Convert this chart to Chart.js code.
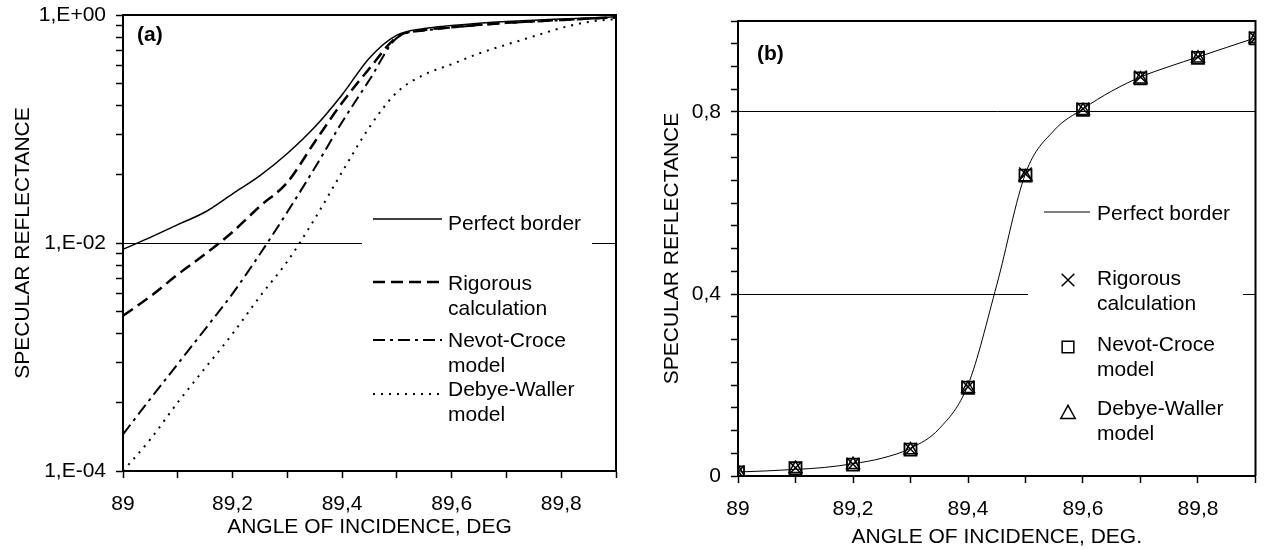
<!DOCTYPE html>
<html>
<head>
<meta charset="utf-8">
<script src="https://cdn.jsdelivr.net/npm/chart.js@4.4.0/dist/chart.umd.min.js"></script>
<style>
  body { margin: 0; background: #fff; }
  #wrapA { position: absolute; left: 0; top: 0; width: 630px; height: 550px; }
  #wrapB { position: absolute; left: 640px; top: 0; width: 626px; height: 550px; }
</style>
</head>
<body>
<div id="wrapA"><canvas id="chartA"></canvas></div>
<div id="wrapB"><canvas id="chartB"></canvas></div>
<script>
// angles for the curves (deg)
const anglesA = [89, 89.05, 89.1, 89.15, 89.2, 89.25, 89.3, 89.35, 89.4, 89.45, 89.5, 89.55, 89.6, 89.65, 89.7, 89.75, 89.8, 89.85, 89.9];
const perfectBorder = [0.0088, 0.0112, 0.0145, 0.0187, 0.027, 0.039, 0.061, 0.104, 0.200, 0.42, 0.665, 0.76, 0.807, 0.846, 0.877, 0.90, 0.921, 0.942, 0.963];
const rigorousA = [0.0023, 0.0034, 0.0053, 0.008, 0.0125, 0.021, 0.034, 0.077, 0.17, 0.34, 0.64, 0.74, 0.78, 0.82, 0.855, 0.88, 0.905, 0.93, 0.955];
const nevotA = [0.00021, 0.00043, 0.00087, 0.00176, 0.0036, 0.008, 0.0187, 0.0455, 0.115, 0.27, 0.63, 0.73, 0.775, 0.815, 0.85, 0.875, 0.90, 0.925, 0.95];
const debyeA = [0.0001, 0.00019, 0.0004, 0.0008, 0.0016, 0.0034, 0.0069, 0.0163, 0.042, 0.104, 0.21, 0.30, 0.37, 0.46, 0.55, 0.65, 0.77, 0.87, 0.92];

// markers in panel (b)
const anglesB = [89, 89.1, 89.2, 89.3, 89.4, 89.5, 89.6, 89.7, 89.8, 89.9];
const rigorousB = [0.009, 0.018, 0.026, 0.059, 0.196, 0.664, 0.807, 0.877, 0.921, 0.963];
const nevotB = [0.008, 0.017, 0.025, 0.058, 0.194, 0.660, 0.805, 0.874, 0.919, 0.962];
const debyeB = [0.008, 0.016, 0.025, 0.057, 0.192, 0.657, 0.803, 0.872, 0.918, 0.961];

const seriesNames = ["Perfect border", "Rigorous\ncalculation", "Nevot-Croce\nmodel", "Debye-Waller\nmodel"];

// tick values
const xTicks = [89, 89.1, 89.2, 89.3, 89.4, 89.5, 89.6, 89.7, 89.8, 89.9];
const yMajorA = [1e-4, 1e-2, 1];
const yMajorB = [0, 0.4, 0.8];

Chart.defaults.font.family = "'Liberation Sans', Arial, sans-serif";
Chart.defaults.font.size = 21;
Chart.defaults.color = "#000";

function toPoints(xs, ys) {
    return xs.map((x, i) => ({ x: x, y: ys[i] }));
}

// minor ticks on log axis: Excel puts them at k*k times the lower major
let yTicksA = [];
for (let m = 0; m < yMajorA.length - 1; m++) {
    yTicksA.push(yMajorA[m]);
    for (let k = 2; k <= 9; k++) yTicksA.push(yMajorA[m] * k * k);
}
yTicksA.push(1);

let yTicksB = [];
for (let i = 0; i <= 20; i++) yTicksB.push(Math.round(i * 5) / 100);

function isMajor(v, list) {
    return list.some(m => Math.abs(v - m) < 1e-9 || (m > 0 && Math.abs(v / m - 1) < 1e-6));
}

function xLabel(value) {
    let t = Math.round(value * 10);
    if (t % 2 !== 0) return "";
    if (t % 10 === 0) return String(t / 10);
    return (t / 10).toFixed(1).replace(".", ",");
}

// frame, panel letter and the boxed legend
const panelPlugin = {
    id: "panelDeco",
    beforeDatasetsDraw(chart) {
        const o = chart.options.plugins.panelDeco;
        const ctx = chart.ctx;
        ctx.save();
        ctx.fillStyle = "#fff";
        ctx.fillRect(o.box[0], o.box[1], o.box[2] - o.box[0], o.box[3] - o.box[1]);
        ctx.restore();
    },
    afterDraw(chart) {
        const o = chart.options.plugins.panelDeco;
        const ctx = chart.ctx;
        const a = chart.chartArea;
        ctx.save();
        // top + right border of plot area
        ctx.strokeStyle = "#000";
        ctx.lineWidth = 2;
        ctx.beginPath();
        ctx.moveTo(a.left, a.top);
        ctx.lineTo(a.right, a.top);
        ctx.lineTo(a.right, a.bottom);
        ctx.stroke();

        ctx.fillStyle = "#000";
        ctx.font = "bold 21px 'Liberation Sans', Arial, sans-serif";
        ctx.textBaseline = "alphabetic";
        ctx.fillText(o.letter, o.letterPos[0], o.letterPos[1]);

        ctx.font = "21px 'Liberation Sans', Arial, sans-serif";
        o.items.forEach(item => {
            const ds = chart.data.datasets[item.ds];
            ctx.strokeStyle = "#000";
            if (item.marker) {
                drawMarker(ctx, item.marker, o.markerX, item.y, 9);
            } else {
                ctx.lineWidth = ds.borderWidth;
                ctx.setLineDash(ds.borderDash || []);
                ctx.beginPath();
                ctx.moveTo(o.lineX[0], item.y);
                ctx.lineTo(o.lineX[1], item.y);
                ctx.stroke();
                ctx.setLineDash([]);
            }
            const lines = seriesNames[item.ds].split("\n");
            lines.forEach((t, i) => {
                ctx.fillText(t, o.textX, item.textY + 7.5 + i * o.lineGap);
            });
        });
        ctx.restore();
    }
};

function drawMarker(ctx, style, x, y, r) {
    ctx.lineWidth = 1.5;
    ctx.beginPath();
    if (style === "crossRot") {
        let d = r * 0.7;
        ctx.moveTo(x - d, y - d); ctx.lineTo(x + d, y + d);
        ctx.moveTo(x + d, y - d); ctx.lineTo(x - d, y + d);
    } else if (style === "rect") {
        let d = r * 0.65;
        ctx.rect(x - d, y - d, 2 * d, 2 * d);
    } else {
        ctx.moveTo(x, y - r * 0.85);
        ctx.lineTo(x + r * 0.8, y + r * 0.6);
        ctx.lineTo(x - r * 0.8, y + r * 0.6);
        ctx.closePath();
    }
    ctx.stroke();
}

function xScale(titleText, titlePad, height) {
    return {
        type: "linear",
        min: 89,
        max: 89.9,
        afterBuildTicks: s => { s.ticks = xTicks.map(v => ({ value: v })); },
        afterFit: s => { s.height = height; s.paddingLeft = 0; s.paddingRight = 0; },
        ticks: { callback: xLabel, autoSkip: false, maxRotation: 0, padding: 14 },
        grid: { drawOnChartArea: false, tickLength: 7, tickColor: "#000", tickWidth: 1.5 },
        border: { color: "#000", width: 2 },
        title: { display: true, text: titleText, padding: { top: 0, bottom: titlePad } }
    };
}

// panel (a)
new Chart("chartA", {
    type: "scatter",
    data: {
        datasets: [
            { label: seriesNames[0], data: toPoints(anglesA, perfectBorder), showLine: true, borderColor: "#000", borderWidth: 1.5, pointRadius: 0, cubicInterpolationMode: "monotone" },
            { label: seriesNames[1], data: toPoints(anglesA, rigorousA), showLine: true, borderColor: "#000", borderWidth: 2.5, borderDash: [12, 6], pointRadius: 0, cubicInterpolationMode: "monotone" },
            { label: seriesNames[2], data: toPoints(anglesA, nevotA), showLine: true, borderColor: "#000", borderWidth: 2, borderDash: [12, 5, 3, 5], pointRadius: 0, cubicInterpolationMode: "monotone" },
            { label: seriesNames[3], data: toPoints(anglesA, debyeA), showLine: true, borderColor: "#000", borderWidth: 2, borderDash: [2, 6], pointRadius: 0, cubicInterpolationMode: "monotone" }
        ]
    },
    options: {
        responsive: true,
        maintainAspectRatio: false,
        animation: false,
        layout: { padding: { top: 15, right: 14, left: 0, bottom: 0 } },
        plugins: {
            legend: { display: false },
            tooltip: { enabled: false },
            panelDeco: {
                letter: "(a)", letterPos: [137, 41],
                box: [362, 190, 592, 440],
                lineX: [373, 442], textX: 448, lineGap: 25, markerX: 0,
                items: [
                    { ds: 0, y: 219, textY: 222 },
                    { ds: 1, y: 282, textY: 282 },
                    { ds: 2, y: 340, textY: 339 },
                    { ds: 3, y: 394, textY: 388 }
                ]
            }
        },
        scales: {
            x: xScale("ANGLE OF INCIDENCE, DEG", 10, 79),
            y: {
                type: "logarithmic",
                min: 1e-4,
                max: 1,
                afterBuildTicks: s => { s.ticks = yTicksA.map(v => ({ value: v })); },
                afterFit: s => { s.width = 123; s.paddingTop = 0; s.paddingBottom = 0; },
                ticks: {
                    autoSkip: false,
                    padding: 10,
                    callback: v => {
                        if (!isMajor(v, yMajorA)) return "";
                        let e = Math.round(Math.log10(v));
                        return "1,E" + (e < 0 ? "-" : "+") + String(Math.abs(e)).padStart(2, "0");
                    }
                },
                grid: {
                    color: c => (c.tick && isMajor(c.tick.value, yMajorA) ? "#000" : "rgba(0,0,0,0)"),
                    lineWidth: 1,
                    tickLength: 7,
                    tickColor: "#000",
                    tickWidth: 1.5
                },
                border: { color: "#000", width: 2 },
                title: { display: true, text: "SPECULAR REFLECTANCE", padding: { top: 11, bottom: 0 } }
            }
        }
    },
    plugins: [panelPlugin]
});

// panel (b)
new Chart("chartB", {
    type: "scatter",
    data: {
        datasets: [
            { label: seriesNames[0], data: toPoints(anglesA, perfectBorder), showLine: true, borderColor: "#000", borderWidth: 1, pointRadius: 0, cubicInterpolationMode: "monotone" },
            { label: seriesNames[1], data: toPoints(anglesB, rigorousB), showLine: false, pointStyle: "crossRot", pointRadius: 9, borderColor: "#000", backgroundColor: "rgba(0,0,0,0)", pointBorderWidth: 1.5 },
            { label: seriesNames[2], data: toPoints(anglesB, nevotB), showLine: false, pointStyle: "rect", pointRadius: 8.5, borderColor: "#000", backgroundColor: "rgba(0,0,0,0)", pointBorderWidth: 1.8 },
            { label: seriesNames[3], data: toPoints(anglesB, debyeB), showLine: false, pointStyle: "triangle", pointRadius: 7.5, borderColor: "#000", backgroundColor: "rgba(0,0,0,0)", pointBorderWidth: 1.5 }
        ]
    },
    options: {
        responsive: true,
        maintainAspectRatio: false,
        animation: false,
        layout: { padding: { top: 21, right: 9, left: 0, bottom: 0 } },
        plugins: {
            legend: { display: false },
            tooltip: { enabled: false },
            panelDeco: {
                letter: "(b)", letterPos: [117, 60],
                box: [388, 185, 603, 455],
                lineX: [404, 450], textX: 457, lineGap: 25, markerX: 428,
                items: [
                    { ds: 0, y: 212, textY: 212 },
                    { ds: 1, y: 280, textY: 277, marker: "crossRot" },
                    { ds: 2, y: 347, textY: 343, marker: "rect" },
                    { ds: 3, y: 413, textY: 407, marker: "triangle" }
                ]
            }
        },
        scales: {
            x: xScale("ANGLE OF INCIDENCE, DEG.", 0, 74),
            y: {
                type: "linear",
                min: 0,
                max: 1,
                afterBuildTicks: s => { s.ticks = yTicksB.map(v => ({ value: v })); },
                afterFit: s => { s.width = 98; s.paddingTop = 0; s.paddingBottom = 0; },
                ticks: {
                    autoSkip: false,
                    padding: 10,
                    callback: v => (isMajor(v, yMajorB) ? String(v).replace(".", ",") : "")
                },
                grid: {
                    color: c => (c.tick && (isMajor(c.tick.value, [0.4, 0.8, 1])) ? "#000" : "rgba(0,0,0,0)"),
                    lineWidth: 1,
                    tickLength: 7,
                    tickColor: "#000",
                    tickWidth: 1.5
                },
                border: { color: "#000", width: 2 },
                title: { display: true, text: "SPECULAR REFLECTANCE", padding: { top: 20, bottom: 0 } }
            }
        }
    },
    plugins: [panelPlugin]
});
</script>
</body>
</html>
